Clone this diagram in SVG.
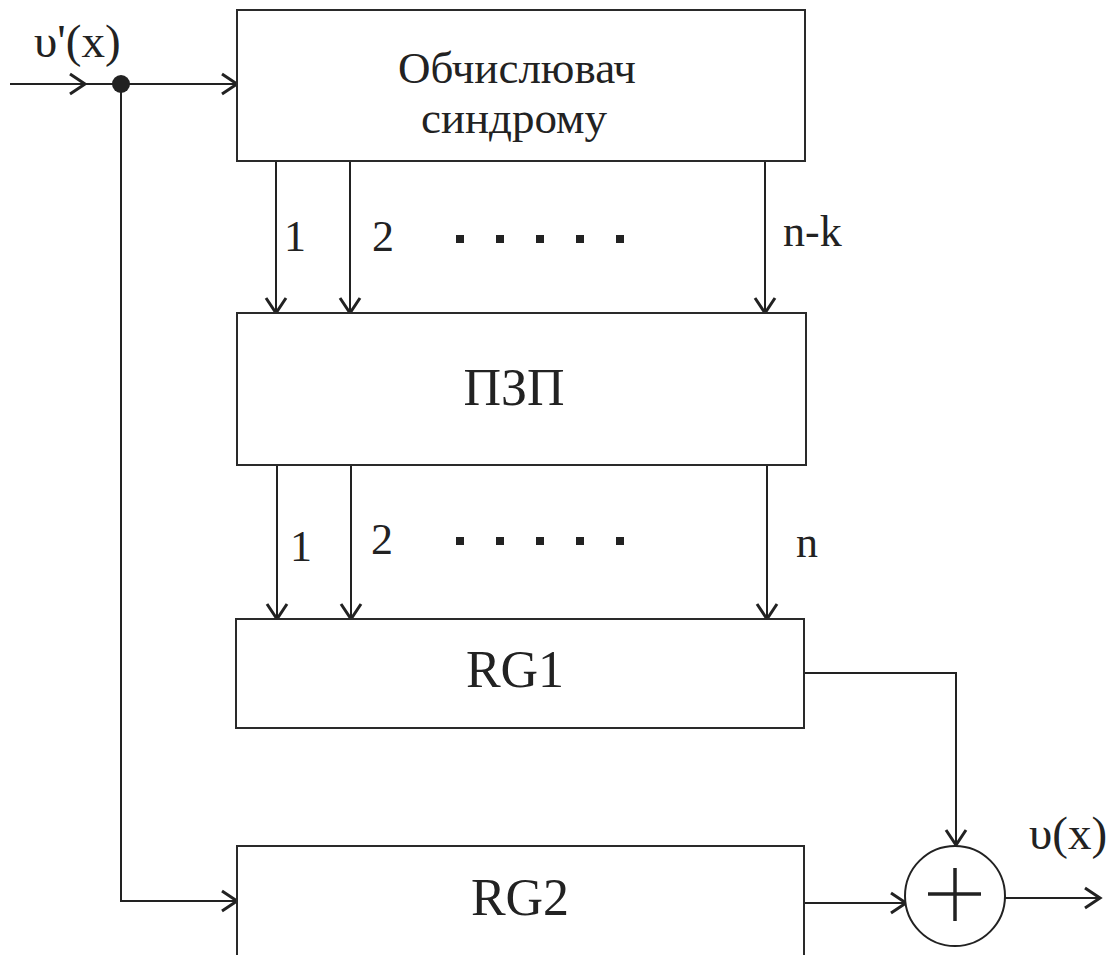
<svg xmlns="http://www.w3.org/2000/svg" width="1116" height="955" viewBox="0 0 1116 955" font-family="Liberation Serif, Times New Roman, serif">
  <style>
    .box { fill: #ffffff; stroke: #2a2a2a; stroke-width: 2; }
    .wire { fill: none; stroke: #222222; stroke-width: 2; }
    .dot { fill: #222222; }
    .lbl { fill: #222222; font-family: 'Liberation Serif', 'Times New Roman', serif; }
  </style>
  <defs>
    <marker id="chev" markerUnits="userSpaceOnUse" markerWidth="40" markerHeight="40"
            viewBox="-20 -20 40 40" refX="0" refY="0" orient="auto" overflow="visible">
      <path d="M-15,-10 L0,0 L-15,10" fill="none" stroke="#222222" stroke-width="3" stroke-linejoin="miter"/>
    </marker>
  </defs>

  <rect width="1116" height="955" fill="#ffffff"/>

  <!-- connectors -->
  <g id="connectors">
    <!-- input -->
    <line class="wire" x1="10" y1="84" x2="85" y2="84" marker-end="url(#chev)"/>
    <line class="wire" x1="85" y1="84" x2="237" y2="84" marker-end="url(#chev)"/>
    <circle class="dot" cx="121" cy="84" r="9"/>
    <!-- branch to RG2 -->
    <polyline class="wire" points="121,84 121,901 237,901" marker-end="url(#chev)"/>
    <!-- syndrome -> ROM -->
    <line class="wire" x1="276" y1="161" x2="276" y2="313" marker-end="url(#chev)"/>
    <line class="wire" x1="350" y1="161" x2="350" y2="313" marker-end="url(#chev)"/>
    <line class="wire" x1="765" y1="161" x2="765" y2="313" marker-end="url(#chev)"/>
    <!-- ROM -> RG1 -->
    <line class="wire" x1="277" y1="465" x2="277" y2="619" marker-end="url(#chev)"/>
    <line class="wire" x1="351" y1="465" x2="351" y2="619" marker-end="url(#chev)"/>
    <line class="wire" x1="767" y1="465" x2="767" y2="619" marker-end="url(#chev)"/>
    <!-- RG1 -> adder -->
    <polyline class="wire" points="804,673 956,673 956,845" marker-end="url(#chev)"/>
    <!-- RG2 -> adder -->
    <line class="wire" x1="804" y1="903" x2="906" y2="903" marker-end="url(#chev)"/>
    <!-- output -->
    <line class="wire" x1="1005" y1="898" x2="1100" y2="898" marker-end="url(#chev)"/>
  </g>

  <!-- bus dots -->
  <g id="ellipsis-top">
    <rect class="dot" x="456" y="235" width="8" height="8"/>
    <rect class="dot" x="496" y="235" width="8" height="8"/>
    <rect class="dot" x="536" y="235" width="8" height="8"/>
    <rect class="dot" x="576" y="235" width="8" height="8"/>
    <rect class="dot" x="616" y="235" width="8" height="8"/>
  </g>
  <g id="ellipsis-bottom">
    <rect class="dot" x="456" y="537" width="8" height="8"/>
    <rect class="dot" x="496" y="537" width="8" height="8"/>
    <rect class="dot" x="536" y="537" width="8" height="8"/>
    <rect class="dot" x="576" y="537" width="8" height="8"/>
    <rect class="dot" x="616" y="537" width="8" height="8"/>
  </g>

  <!-- bus labels -->
  <g id="bus-labels" class="lbl" font-size="44">
    <text x="284" y="251">1</text>
    <text x="372" y="251">2</text>
    <text x="783" y="246">n-k</text>
    <text x="290" y="561">1</text>
    <text x="371" y="554">2</text>
    <text x="796" y="557">n</text>
  </g>

  <!-- signal labels -->
  <g id="io-labels" class="lbl" font-size="47">
    <text x="34" y="57">υ'(x)</text>
    <text x="1029" y="849">υ(x)</text>
  </g>

  <g id="syndrome" class="lbl">
    <rect class="box" x="237" y="10" width="568" height="151"/>
    <text font-size="45" text-anchor="middle" x="517" y="83">Обчислювач</text>
    <text font-size="45" text-anchor="middle" x="514" y="133">синдрому</text>
  </g>

  <g id="rom" class="lbl">
    <rect class="box" x="237" y="313" width="569" height="152"/>
    <text font-size="52" text-anchor="middle" x="514" y="405">ПЗП</text>
  </g>

  <g id="rg1" class="lbl">
    <rect class="box" x="236" y="619" width="568" height="109"/>
    <text font-size="52" text-anchor="middle" x="515" y="687">RG1</text>
  </g>

  <g id="rg2" class="lbl">
    <rect class="box" x="237" y="846" width="567" height="200"/>
    <text font-size="52" text-anchor="middle" x="520" y="915">RG2</text>
  </g>

  <g id="adder">
    <circle cx="955" cy="896" r="50" fill="#ffffff" stroke="#222222" stroke-width="2"/>
    <line x1="928" y1="894" x2="981" y2="894" stroke="#222222" stroke-width="3.5"/>
    <line x1="955" y1="868" x2="955" y2="921" stroke="#222222" stroke-width="3.5"/>
  </g>
</svg>
